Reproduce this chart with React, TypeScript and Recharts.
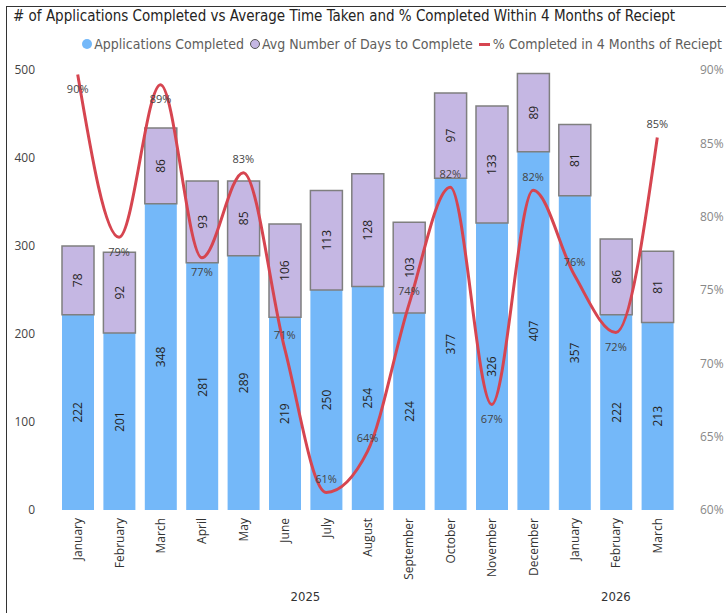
import React from 'react';
import { ComposedChart, Bar, Line, XAxis, YAxis, LabelList } from 'recharts';

const months = ['January', 'February', 'March', 'April', 'May', 'June', 'July', 'August', 'September', 'October', 'November', 'December', 'January', 'February', 'March'];
const years = ['2025', '2025', '2025', '2025', '2025', '2025', '2025', '2025', '2025', '2025', '2025', '2025', '2026', '2026', '2026'];
const appsCompleted = [222, 201, 348, 281, 289, 219, 250, 254, 224, 377, 326, 407, 357, 222, 213];
const avgDays = [78, 92, 86, 93, 85, 106, 113, 128, 103, 97, 133, 89, 81, 86, 81];
const pctWithin4Months = [89.7, 78.6, 89.0, 77.2, 83.0, 71.0, 61.2, 64.0, 74.0, 82.0, 67.2, 81.8, 76.0, 72.1, 85.4];
const leftTicks = [0, 100, 200, 300, 400, 500];
const rightTicks = [60, 65, 70, 75, 80, 85, 90];
const labelBelow = new Set([0, 1, 2, 3, 10, 13]);

const data = months.map((m, i) => ({
  key: `${years[i]}-${m}`,
  month: m,
  year: years[i],
  apps: appsCompleted[i],
  days: avgDays[i],
  pct: pctWithin4Months[i],
}));

const W = 726;
const H = 613;
const LEFT_W = 57;
const RIGHT_W = 48;
const TOP = 70;
const XAXIS_H = 103;

const BLUE = '#74B8F9';
const LAVENDER = '#C5B7E3';
const RED = '#D64550';
const UI_FONT = "'Segoe UI', 'Open Sans', 'Noto Sans', sans-serif";
const TITLE_FONT = "'DejaVu Sans Condensed', 'Liberation Sans Narrow', 'Roboto Condensed', Roboto, sans-serif";

const yearGroups = (() => {
  const g: { year: string; first: number; last: number }[] = [];
  years.forEach((y, i) => {
    const cur = g[g.length - 1];
    if (cur && cur.year === y) cur.last = i;
    else g.push({ year: y, first: i, last: i });
  });
  return g;
})();

const MonthTick = (props: any) => {
  const { x, y, payload, index } = props;
  const i = payload && typeof payload.index === 'number' ? payload.index : index;
  const d = data[i];
  const band = (W - LEFT_W - RIGHT_W) / data.length;
  const half = payload && typeof payload.offset === 'number' && payload.offset > 0 ? payload.offset : band / 2;
  const yearLabels: React.ReactNode[] = [];
  yearGroups.forEach((g) => {
    const mid = (g.first + g.last) / 2;
    if (Math.floor(mid) === i) {
      const xx = mid === i ? x : x + half;
      yearLabels.push(
        <text key={g.year} x={xx} y={y + 86} textAnchor="middle" dominantBaseline="central" fontSize={13} fill="#333" fontFamily={TITLE_FONT}>
          {g.year}
        </text>
      );
    }
  });
  return (
    <g>
      <text
        x={x}
        y={y + 8}
        transform={`rotate(-90, ${x}, ${y + 8})`}
        textAnchor="end"
        dominantBaseline="central"
        fontSize={12}
        fill="#333"
        fontFamily={UI_FONT}
      >
        {d ? d.month : ''}
      </text>
      {yearLabels}
    </g>
  );
};

const RotLabel = (props: any) => {
  const { x, y, width, height, value } = props;
  const cx = Number(x) + Number(width) / 2;
  const cy = Number(y) + Number(height) / 2;
  return (
    <text
      x={cx}
      y={cy}
      transform={`rotate(-90, ${cx}, ${cy})`}
      textAnchor="middle"
      dominantBaseline="central"
      fontSize={12}
      fill="#252423"
      fontFamily={UI_FONT}
    >
      {value}
    </text>
  );
};

const PctLabel = (props: any) => {
  const { x, y, value, index } = props;
  const dy = labelBelow.has(index) ? 14 : -14;
  return (
    <text x={x} y={Number(y) + dy} textAnchor="middle" dominantBaseline="central" fontSize={11} fill="#444" fontFamily={UI_FONT}>
      {`${Math.round(Number(value))}%`}
    </text>
  );
};

const legendItems = [
  { label: 'Applications Completed', kind: 'dot', color: BLUE },
  { label: 'Avg Number of Days to Complete', kind: 'ring', color: LAVENDER },
  { label: '% Completed in 4 Months of Reciept', kind: 'dash', color: RED },
];

export default function App() {
  return (
    <div style={{ position: 'absolute', left: 0, top: 0, width: W, height: H, background: '#fff', overflow: 'hidden' }}>
      <div style={{ position: 'absolute', left: 6, top: 6, right: 0, bottom: 0, borderLeft: '1.5px solid #333', borderTop: '1.5px solid #333' }} />
      <div style={{ position: 'absolute', left: 13, top: 7, fontFamily: TITLE_FONT, fontSize: 15, color: '#252423', whiteSpace: 'nowrap' }}>
        # of Applications Completed vs Average Time Taken and % Completed Within 4 Months of Reciept
      </div>
      <div style={{ position: 'absolute', right: 4, top: 36, display: 'flex', alignItems: 'center', fontFamily: TITLE_FONT, fontSize: 14, color: '#605E5C', whiteSpace: 'nowrap' }}>
        {legendItems.map((it) => (
          <div key={it.label} style={{ display: 'flex', alignItems: 'center', marginLeft: 6 }}>
            {it.kind === 'dash' ? (
              <span style={{ display: 'inline-block', width: 11, height: 3, background: it.color, marginRight: 3 }} />
            ) : (
              <span
                style={{
                  display: 'inline-block',
                  width: it.kind === 'ring' ? 8 : 10,
                  height: it.kind === 'ring' ? 8 : 10,
                  borderRadius: '50%',
                  background: it.color,
                  border: it.kind === 'ring' ? '1.5px solid #555' : 'none',
                  marginRight: 2,
                }}
              />
            )}
            <span>{it.label}</span>
          </div>
        ))}
      </div>
      <div style={{ position: 'absolute', left: 0, top: 0 }}>
        <ComposedChart width={W} height={H} data={data} margin={{ top: TOP, right: 0, bottom: 0, left: 0 }}>
          <XAxis
            dataKey="key"
            xAxisId="x"
            interval={0}
            height={XAXIS_H}
            axisLine={false}
            tickLine={false}
            tickSize={0}
            tickMargin={0}
            tick={<MonthTick />}
          />
          <YAxis
            yAxisId="left"
            orientation="left"
            width={LEFT_W}
            domain={[0, 500]}
            ticks={leftTicks}
            axisLine={false}
            tickLine={false}
            tickSize={0}
            tickMargin={22}
            tick={{ fontSize: 12, fill: '#444', fontFamily: UI_FONT }}
          />
          <YAxis
            yAxisId="right"
            orientation="right"
            width={RIGHT_W}
            domain={[60, 90]}
            ticks={rightTicks}
            allowDataOverflow
            axisLine={false}
            tickLine={false}
            tickSize={0}
            tickMargin={22}
            tickFormatter={(v: number) => `${v}%`}
            tick={{ fontSize: 12, fill: '#888', fontFamily: UI_FONT }}
          />
          <Bar dataKey="apps" xAxisId="x" yAxisId="left" stackId="s" fill={BLUE} barSize={32} isAnimationActive={false}>
            <LabelList dataKey="apps" content={<RotLabel />} />
          </Bar>
          <Bar dataKey="days" xAxisId="x" yAxisId="left" stackId="s" fill={LAVENDER} stroke="#7F7F7F" strokeWidth={1.5} barSize={32} isAnimationActive={false}>
            <LabelList dataKey="days" content={<RotLabel />} />
          </Bar>
          <Line dataKey="pct" xAxisId="x" yAxisId="right" type="monotone" stroke={RED} strokeWidth={3} dot={false} activeDot={false} isAnimationActive={false}>
            <LabelList dataKey="pct" content={<PctLabel />} />
          </Line>
        </ComposedChart>
      </div>
    </div>
  );
}
